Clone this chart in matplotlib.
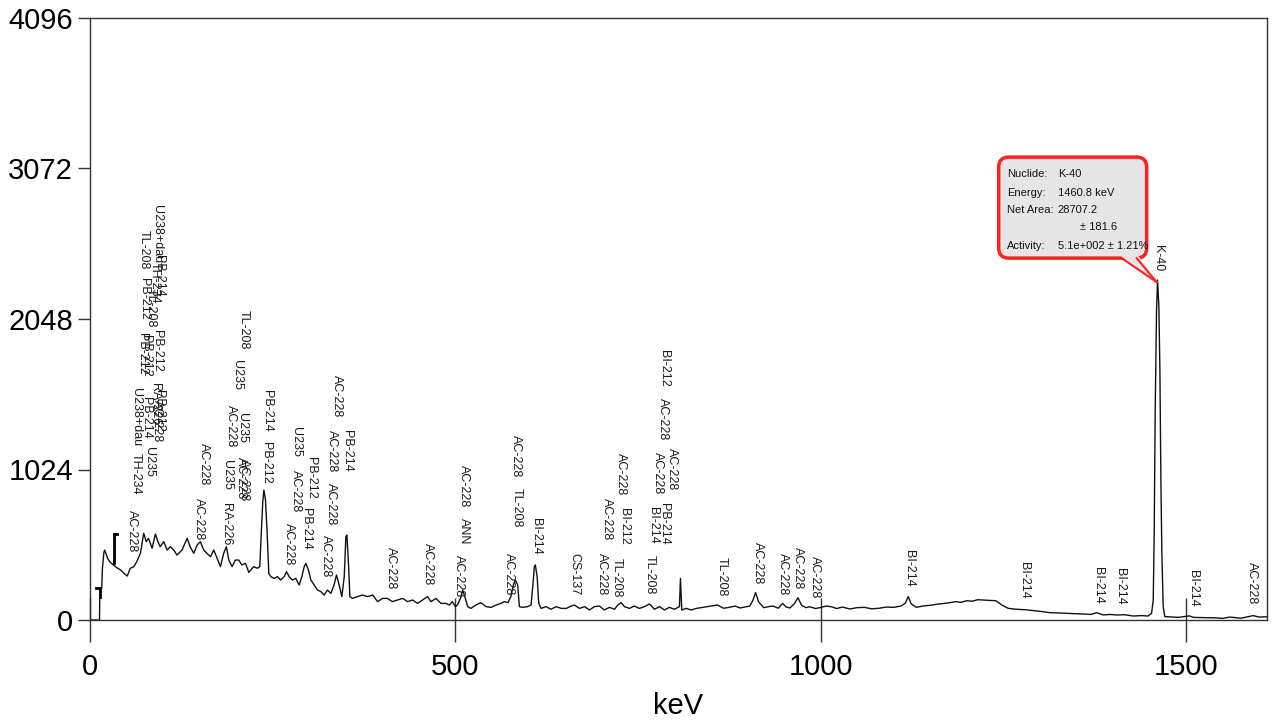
import matplotlib
matplotlib.use('Agg')
import matplotlib.pyplot as plt
from matplotlib.patches import FancyBboxPatch, Polygon
from matplotlib.lines import Line2D
from matplotlib.transforms import IdentityTransform

plt.rcParams['font.family'] = ['Liberation Sans', 'DejaVu Sans']

# spectrum (keV, counts)
energy = [0, 13, 13.5, 16, 17, 19, 20, 22, 24, 27, 32, 37, 42, 46, 51, 55, 60, 64, 69,
          73.5, 77, 80, 85, 89.5, 93, 96, 101, 105.5, 110, 114.6, 119, 126, 133, 137,
          142, 146.6, 151, 155.7, 160, 165, 169.4, 174, 178.5, 183, 186.7, 190, 194.5,
          199, 203.6, 208, 212.8, 217.3, 224, 229, 232.4, 234.2, 236.5, 238, 240.2,
          242.5, 244.7, 247.5, 252, 256.6, 261, 265.8, 269, 272.6, 277, 281.7, 286.3,
          290, 293.2, 295.4, 299, 302.3, 306.8, 311.4, 316, 320.5, 325, 329.7, 334,
          337.4, 341, 344.7, 348, 350.2, 351.6, 354, 355.7, 359.4, 366, 373, 380, 387,
          393.6, 400.5, 407, 414, 421, 428, 434.7, 441.6, 448.4, 455, 462, 466.7,
          473.5, 480.4, 487, 492, 496, 500, 503, 508, 510, 512.3, 517, 521.5, 528,
          535, 542, 549, 556, 562.6, 567, 572, 576, 579.5, 582.2, 585.4, 587.7, 592,
          599, 603.7, 606, 608.2, 609.6, 612, 614.2, 617.4, 624, 631, 638, 645, 652,
          658.5, 663, 670, 677, 683.6, 690.4, 697.3, 704, 711, 718, 722.4, 727, 731.5,
          738.4, 745, 752, 759, 765.8, 772.6, 779.5, 786.3, 793, 800, 806.8, 808.2,
          810, 816, 823, 830, 845, 859, 867, 875, 883, 890, 903, 907, 911, 915, 922,
          930, 935, 942, 948, 953, 958, 964, 969, 974, 980, 985, 993, 1000, 1008,
          1015, 1022, 1030, 1040, 1050, 1060, 1070, 1080, 1090, 1100, 1110, 1116,
          1120, 1124, 1131, 1140, 1153, 1160, 1168, 1177, 1185, 1192, 1200, 1208,
          1215, 1222, 1230, 1240, 1248, 1257, 1268, 1280, 1291, 1302, 1314, 1325,
          1337, 1348, 1359, 1370, 1378, 1387, 1396, 1405, 1416, 1428, 1440, 1448,
          1453, 1455.3, 1456.6, 1458, 1459.8, 1461.2, 1463, 1464.4, 1465.8, 1467.1,
          1468.9, 1471.2, 1490, 1505, 1510, 1525, 1540, 1550, 1560, 1575, 1585, 1592,
          1600, 1611]
counts = [0, 0, 215, 215, 352, 460, 476, 450, 420, 397, 374, 355, 340, 320, 299, 351,
          363, 397, 454, 590, 533, 556, 488, 585, 533, 499, 533, 476, 499, 476, 442,
          476, 556, 499, 454, 510, 533, 476, 454, 431, 476, 420, 363, 454, 499, 408,
          363, 408, 408, 374, 386, 324, 363, 352, 363, 567, 805, 884, 816, 590, 317,
          295, 283, 295, 272, 295, 329, 295, 272, 283, 238, 295, 363, 385, 340, 272,
          238, 204, 193, 170, 204, 181, 238, 306, 238, 159, 295, 567, 578, 363, 159,
          147, 159, 170, 159, 170, 125, 147, 147, 125, 136, 147, 125, 136, 113, 136,
          159, 125, 147, 113, 113, 102, 125, 91, 102, 159, 204, 170, 91, 79, 102, 118,
          91, 86, 102, 113, 125, 118, 159, 238, 272, 238, 91, 86, 91, 102, 227, 363,
          374, 295, 113, 79, 91, 73, 91, 79, 79, 95, 102, 79, 91, 68, 91, 95, 68, 86,
          73, 102, 118, 91, 79, 95, 79, 91, 109, 73, 91, 68, 86, 73, 91, 283, 68, 79,
          68, 79, 91, 102, 80, 86, 95, 82, 95, 130, 186, 125, 84, 92, 95, 80, 113, 88,
          82, 110, 152, 100, 84, 90, 78, 85, 95, 90, 78, 88, 75, 84, 86, 76, 80, 88,
          86, 95, 115, 159, 110, 86, 95, 102, 108, 112, 118, 125, 120, 131, 128, 138,
          136, 133, 131, 102, 79, 73, 70, 64, 58, 50, 48, 45, 43, 41, 38, 50, 34, 38,
          34, 36, 27, 30, 27, 45, 136, 590, 1429, 2109, 2313, 2131, 1701, 930, 454,
          91, 23, 18, 28, 18, 16, 15, 11, 20, 12, 22, 30, 20, 22]

# ROI bracket markers at the low end
roi_kev = [13.3, 32.4]
roi_lo = [156, 388]
roi_hi = [218, 585]
roi_cap = [8.6, 37.0]

# nuclide labels: text, energy (keV), top of label (counts)
label_text = ['U238+dau', 'PB-214', 'TH-234', 'TL-208', 'PB-212', 'RA-226', 'PB-212',
              'AC-228', 'TL-208', 'PB-212', 'PB-212', 'PB-212', 'PB-214', 'U235',
              'U238+dau', 'TH-234', 'AC-228', 'AC-228', 'AC-228', 'TL-208', 'U235',
              'U235', 'AC-228', 'AC-228', 'AC-228', 'U235', 'RA-226', 'PB-214', 'PB-212',
              'U235', 'AC-228', 'AC-228', 'PB-212', 'PB-214', 'AC-228', 'PB-214',
              'AC-228', 'AC-228', 'AC-228', 'AC-228', 'AC-228', 'AC-228', 'ANN',
              'AC-228', 'AC-228', 'TL-208', 'AC-228', 'BI-214', 'CS-137', 'AC-228',
              'AC-228', 'AC-228', 'BI-212', 'TL-208', 'BI-212', 'AC-228', 'AC-228',
              'AC-228', 'PB-214', 'BI-214', 'TL-208', 'TL-208', 'AC-228', 'AC-228',
              'AC-228', 'AC-228', 'BI-214', 'BI-214', 'BI-214', 'BI-214', 'BI-214',
              'AC-228', 'K-40']
label_kev = [91.8, 94.5, 89, 83.6, 91.8, 89, 94.5, 91.8, 74, 74, 71.2, 76.7, 76.7, 80.8,
             63, 63, 57.5, 156, 149, 211, 201, 208, 193, 207, 211, 188, 186, 242.5, 241,
             282, 282, 272.6, 302.7, 296, 338, 352, 331.5, 330, 323, 412, 463, 512, 512,
             505, 583.6, 583.6, 574, 611, 663, 701, 707, 727, 731.5, 720.5, 786, 783.6,
             796, 777, 786, 770, 766, 864, 914, 948, 968.5, 992, 1120.5, 1279, 1379,
             1409.6, 1509.6, 1590, 1461.6]
label_top = [2823, 2483, 2435, 2259, 1973, 1612, 1565, 1497, 2653, 2327, 1952, 1939,
             1517, 1177, 1578, 1136, 748, 1204, 830, 2109, 1769, 1408, 1463, 1109, 1095,
             1088, 796, 1565, 1211, 1313, 1020, 660, 1109, 762, 1667, 1293, 1293, 932,
             578, 497, 524, 1054, 694, 442, 1259, 898, 456, 694, 456, 456, 830, 1136,
             762, 422, 1837, 1510, 1170, 1143, 796, 769, 442, 429, 531, 456, 497, 435,
             476, 395, 361, 354, 340, 395, 2551]

# callout for the K-40 peak
peak_kev, peak_counts = 1460.0, 2299
info_keys = ['Nuclide:', 'Energy:', 'Net Area:', '', 'Activity:']
info_vals = ['K-40', '1460.8 keV', '28707.2', '\u00b1 181.6', '5.1e+002 \u00b1 1.21%']

fig = plt.figure(figsize=(12.8, 7.2), dpi=100)
ax = fig.add_axes([90 / 1280, 100 / 720, 1177 / 1280, 602 / 720])

ax.plot(energy, counts, color='#111111', lw=1.0)
for k, lo, hi, cap in zip(roi_kev, roi_lo, roi_hi, roi_cap):
    ax.plot([k, k], [lo, hi], color='black', lw=2)
    ax.plot([k, cap], [hi, hi], color='black', lw=2)

for t, k, y in zip(label_text, label_kev, label_top):
    ax.text(k, y, t, rotation=270, ha='center', va='top', fontsize=9,
            color='#1a1a1a')

ax.set_xlim(0, 1611)
ax.set_ylim(0, 4096)
ax.set_xticks([0, 500, 1000, 1500])
ax.set_yticks([0, 1024, 2048, 3072, 4096])
ax.tick_params(axis='y', direction='out', length=8.6, width=1, pad=3.5,
               labelsize=21, color='#333333')
ax.tick_params(axis='x', direction='inout', length=31, width=1, pad=8,
               labelsize=21, color='#333333')
ax.set_xlabel('keV', fontsize=21, labelpad=8)
for s in ax.spines.values():
    s.set_color('#333333')
    s.set_linewidth(1.0)

# callout box, placed in pixels relative to the peak
ident = IdentityTransform()
tx, ty = ax.transData.transform((peak_kev, peak_counts))
bx, by, bw, bh = tx - 158, ty + 24, 148, 101
box = FancyBboxPatch((bx, by), bw, bh, boxstyle='round,pad=0,rounding_size=10',
                     transform=ident, fc='#e6e6e6', ec='#ff2020', lw=2.5,
                     clip_on=False, zorder=5)
ax.add_patch(box)
tail = Polygon([(tx - 36.5, by + 2.5), (tx - 18.5, by + 2.5), (tx, ty)], closed=True,
               transform=ident, fc='#e6e6e6', ec='none', clip_on=False, zorder=6)
ax.add_patch(tail)
for dx in (-35, -20):
    ax.add_line(Line2D([tx + dx, tx], [by, ty], transform=ident, color='#ff2020',
                       lw=1.5, clip_on=False, zorder=7))

top = by + bh
row_off = [17, 36, 53, 70, 89]
for key, val, off in zip(info_keys, info_vals, row_off):
    ax.text(bx + 8, top - off, key, transform=ident, ha='left', va='center',
            fontsize=8.0, color='#111111', zorder=8)
    vx = bx + 81 if key == '' else bx + 59
    ax.text(vx, top - off, val, transform=ident, ha='left', va='center',
            fontsize=8.0, color='#111111', zorder=8)

fig.savefig('out.png', dpi=100)
